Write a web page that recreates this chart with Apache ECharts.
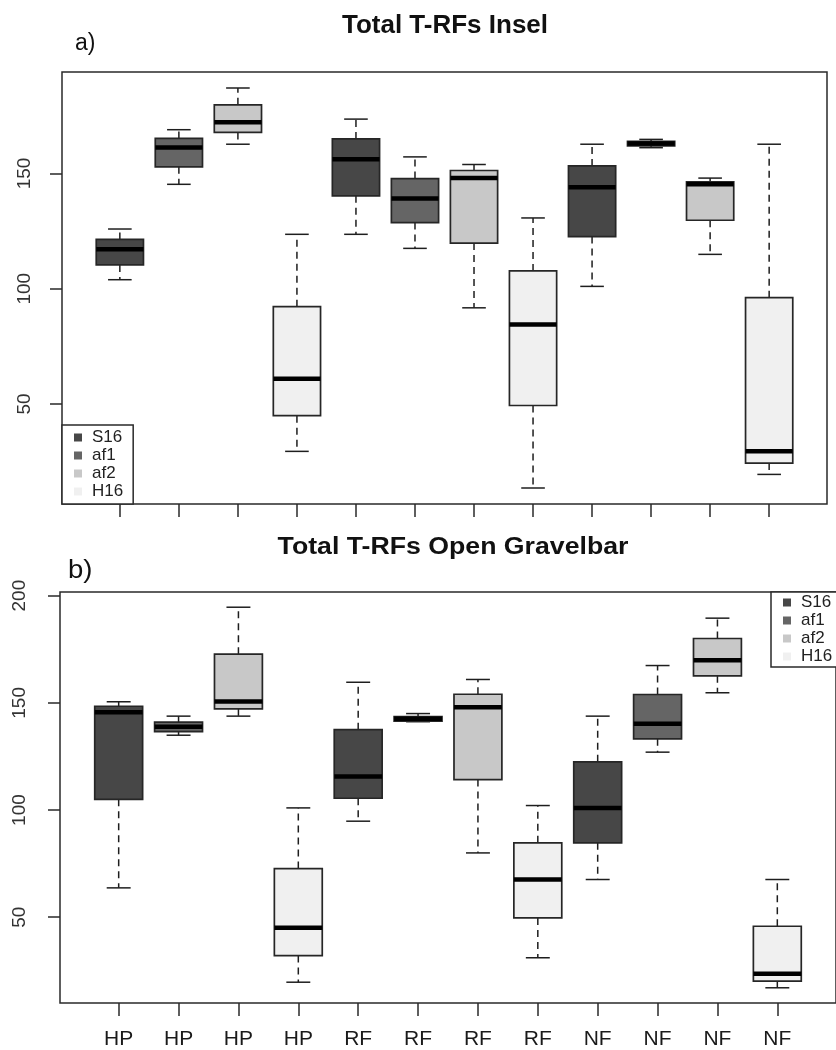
<!DOCTYPE html>
<html><head><meta charset="utf-8">
<script src="https://cdn.jsdelivr.net/npm/echarts@6/dist/echarts.min.js"></script>
<style>html,body{margin:0;padding:0;background:#fff}#c{width:836px;height:1050px}</style>
</head><body><div id="c"></div>
<script>
// ---------- data ----------
const categories = ['HP','HP','HP','HP','RF','RF','RF','RF','NF','NF','NF','NF'];
const groups = ['S16','af1','af2','H16'];
const titleInsel = 'Total T-RFs Insel';
const titleGravel = 'Total T-RFs Open Gravelbar';
const yTicksInsel = [50, 100, 150];
const yTicksGravel = [50, 100, 150, 200];

// Panel a) Insel : whisker low, Q1, median, Q3, whisker high
const inselLow  = [103.9, 145.3, 162.7, 29.4, 123.6, 117.5,  91.7,  13.5, 101.0, 161.2, 114.9,  19.4];
const inselQ1   = [110.3, 152.9, 167.8, 44.9, 140.3, 128.7, 119.8,  49.3, 122.6, 162.0, 129.7,  24.3];
const inselMed  = [117.1, 161.3, 172.2, 60.9, 156.2, 139.1, 148.0,  84.5, 144.0, 163.0, 145.3,  29.4];
const inselQ3   = [121.4, 165.2, 179.8, 92.2, 165.0, 147.8, 151.3, 107.7, 153.3, 164.0, 146.4,  96.1];
const inselHigh = [125.9, 169.0, 187.1,123.6, 173.6, 157.2, 153.9, 130.7, 162.7, 164.8, 148.0, 162.7];

// Panel b) Open Gravelbar
const gravelLow  = [ 63.7, 134.9, 143.8,  19.7,  94.8, 141.2,  80.0,  31.1,  67.6, 127.0, 154.7,  17.1];
const gravelQ1   = [105.0, 136.6, 147.2,  32.1, 105.5, 141.5, 114.2,  49.7,  84.7, 133.2, 162.6,  20.2];
const gravelMed  = [145.6, 138.8, 150.6,  45.1, 115.6, 142.6, 148.0,  67.6, 101.0, 140.2, 169.9,  23.6];
const gravelQ3   = [148.4, 141.0, 172.7,  72.7, 137.5, 143.6, 154.0,  84.7, 122.5, 153.9, 180.0,  45.8];
const gravelHigh = [150.5, 143.8, 194.6, 101.0, 159.6, 145.0, 160.9, 102.1, 143.8, 167.4, 189.5,  67.6];

// ---------- styling ----------
const groupColors = ['#474747', '#656565', '#c8c8c8', '#f0f0f0'];
const FONT = '"Liberation Sans", Arial, sans-serif';
const positions = categories.map((c, i) => i + 1);

function rRange(lo, hi) { const d = hi - lo; return [lo - 0.04 * d, hi + 0.04 * d]; }
const inselRange = rRange(Math.min(...inselLow), Math.max(...inselHigh));
const gravelRange = rRange(Math.min(...gravelLow), Math.max(...gravelHigh));

function renderBox(params, api) {
  const x = api.value(0);
  const lo = api.value(1), q1 = api.value(2), md = api.value(3), q3 = api.value(4), hi = api.value(5);
  const px = api.coord([x, md])[0];
  const y = v => api.coord([x, v])[1];
  const w = api.size([0.8, 0])[0];
  const cap = w / 2;
  const fill = api.visual('color');
  const wStyle = { stroke: '#1e1e1e', lineWidth: 1.5, lineDash: [7, 5] };
  const cStyle = { stroke: '#1e1e1e', lineWidth: 1.5 };
  return {
    type: 'group',
    children: [
      { type: 'line', shape: { x1: px, y1: y(q3), x2: px, y2: y(hi) }, style: wStyle },
      { type: 'line', shape: { x1: px, y1: y(q1), x2: px, y2: y(lo) }, style: wStyle },
      { type: 'line', shape: { x1: px - cap / 2, y1: y(hi), x2: px + cap / 2, y2: y(hi) }, style: cStyle },
      { type: 'line', shape: { x1: px - cap / 2, y1: y(lo), x2: px + cap / 2, y2: y(lo) }, style: cStyle },
      { type: 'rect', shape: { x: px - w / 2, y: y(q3), width: w, height: y(q1) - y(q3) },
        style: { fill: fill, stroke: '#262626', lineWidth: 1.7 } },
      { type: 'line', shape: { x1: px - w / 2, y1: y(md), x2: px + w / 2, y2: y(md) },
        style: { stroke: '#000', lineWidth: 4.5 } }
    ]
  };
}

function seriesFor(gridIdx, low, q1, med, q3, high) {
  return groups.map((g, gi) => ({
    type: 'custom',
    name: g,
    xAxisIndex: gridIdx,
    yAxisIndex: gridIdx,
    itemStyle: { color: groupColors[gi] },
    renderItem: renderBox,
    encode: { x: 0, y: [1, 2, 3, 4, 5] },
    data: positions.filter((p, i) => i % 4 === gi)
      .map(p => { const i = p - 1; return [p, low[i], q1[i], med[i], q3[i], high[i]]; }),
    z: 3
  }));
}

const tickStyle = { color: '#2a2a2a', width: 1.5 };
function xAxisCfg(gridIndex, showLabels) {
  return {
    type: 'value', gridIndex, min: 0.02, max: 12.98,
    axisLine: { show: false }, splitLine: { show: false },
    axisTick: { show: true, customValues: positions, length: 13, lineStyle: tickStyle },
    axisLabel: {
      show: showLabels, customValues: positions, margin: 26,
      formatter: v => categories[Math.round(v) - 1] || '',
      fontSize: 21, color: '#1a1a1a', fontFamily: FONT
    }
  };
}
function yAxisCfg(gridIndex, range, ticks, margin) {
  return {
    type: 'value', gridIndex, min: range[0], max: range[1],
    axisLine: { show: false }, splitLine: { show: false },
    axisTick: { show: true, customValues: ticks, length: 12, lineStyle: tickStyle },
    axisLabel: { customValues: ticks, rotate: 90, margin: margin, fontSize: 19, color: '#333', fontFamily: FONT }
  };
}
function legendCfg(left, top, padV) {
  return {
    orient: 'vertical', left, top, data: groups, icon: 'rect',
    itemWidth: 8, itemHeight: 8, itemGap: 1, selectedMode: false,
    padding: [padV, 10, padV, 12], borderColor: '#2a2a2a', borderWidth: 1.5, backgroundColor: '#fff',
    itemStyle: { borderWidth: 0 },
    textStyle: { fontSize: 17, lineHeight: 16, color: '#222', fontFamily: FONT, padding: [0, 0, 0, 5] },
    z: 10
  };
}

const chart = echarts.init(document.getElementById('c'), null, { renderer: 'canvas' });
chart.setOption({
  backgroundColor: '#fff',
  animation: false,
  grid: [
    { left: 62, top: 72, width: 765, height: 432, show: true, borderColor: '#2a2a2a', borderWidth: 1.5, backgroundColor: 'transparent' },
    { left: 60, top: 592, width: 783, height: 412, show: true, borderColor: '#2a2a2a', borderWidth: 1.5, backgroundColor: 'transparent' }
  ],
  xAxis: [xAxisCfg(0, false), xAxisCfg(1, true)],
  yAxis: [yAxisCfg(0, inselRange, yTicksInsel, 28), yAxisCfg(1, gravelRange, yTicksGravel, 31)],
  legend: [legendCfg(62, 425, 4), legendCfg(771, 592, 2)],
  graphic: [
    { type: 'text', x: 445, y: 26, scaleX: 1.04, style: { text: titleInsel, font: 'bold 25px ' + FONT, align: 'center', verticalAlign: 'middle', fill: '#111' } },
    { type: 'text', x: 453, y: 548, scaleX: 1.16, style: { text: titleGravel, font: 'bold 23px ' + FONT, align: 'center', verticalAlign: 'middle', fill: '#111' } },
    { type: 'text', x: 75, y: 44, style: { text: 'a)', font: '23px ' + FONT, align: 'left', verticalAlign: 'middle', fill: '#111' } },
    { type: 'text', x: 68, y: 571, scaleX: 1.1, style: { text: 'b)', font: '25px ' + FONT, align: 'left', verticalAlign: 'middle', fill: '#111' } }
  ],
  series: [
    ...seriesFor(0, inselLow, inselQ1, inselMed, inselQ3, inselHigh),
    ...seriesFor(1, gravelLow, gravelQ1, gravelMed, gravelQ3, gravelHigh)
  ]
});
</script>
</body></html>
